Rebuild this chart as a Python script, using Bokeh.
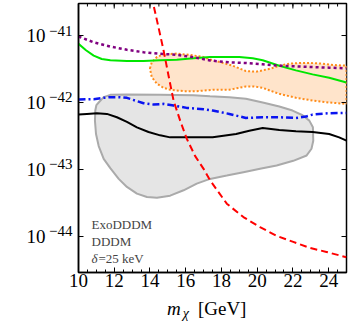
import numpy as np
from bokeh.plotting import figure
from bokeh.models import Range1d, FixedTicker, LogAxis, Label, Div
from bokeh.layouts import column
from bokeh.embed import file_html
from bokeh.resources import INLINE

# ---------------- data (m_chi in GeV, log10 of cross section) ----------------
purple_m = [10.0, 10.84, 11.77, 12.71, 13.64, 14.57, 15.50, 16.44, 17.37, 18.44, 19.37, 20.31, 21.24, 22.17, 23.10, 24.03, 25.0]
purple_log = [-41.015, -41.10, -41.164, -41.213, -41.249, -41.273, -41.288, -41.324, -41.373, -41.40, -41.41, -41.43, -41.45, -41.46, -41.47, -41.48, -41.49]

green_m = [10.0, 10.42, 10.85, 11.3, 11.78, 12.71, 13.64, 14.57, 15.50, 16.44, 17.36, 18.2, 19.0, 19.75, 20.31, 21.24, 22.17, 23.10, 24.03, 25.0]
green_log = [-41.124, -41.22, -41.30, -41.35, -41.37, -41.38, -41.38, -41.37, -41.36, -41.34, -41.32, -41.32, -41.32, -41.34, -41.37, -41.45, -41.52, -41.58, -41.63, -41.70]

band_upper_m = [14.0, 14.1, 14.39, 14.76, 15.5, 16.25, 16.99, 17.51, 18.1, 18.63, 19.37, 19.93, 20.31, 20.8, 21.24, 21.8, 22.36, 23.0, 23.66, 24.3, 25.0]
band_upper_log = [-41.49, -41.40, -41.32, -41.28, -41.27, -41.29, -41.32, -41.37, -41.41, -41.45, -41.53, -41.54, -41.52, -41.49, -41.45, -41.42, -41.41, -41.41, -41.42, -41.44, -41.45]
band_lower_m = [14.05, 14.1, 14.39, 14.76, 15.13, 15.88, 16.62, 17.51, 18.44, 19.0, 19.37, 19.8, 20.31, 20.8, 21.24, 22.17, 23.10, 24.03, 25.0]
band_lower_log = [-41.56, -41.62, -41.72, -41.78, -41.81, -41.83, -41.83, -41.81, -41.81, -41.78, -41.76, -41.76, -41.78, -41.83, -41.87, -41.93, -41.97, -42.00, -42.02]

blue_m = [10.0, 10.85, 11.41, 11.78, 12.34, 12.71, 13.17, 13.64, 14.2, 14.76, 15.32, 16.06, 17.0, 17.51, 18.44, 19.37, 20.31, 21.24, 22.17, 22.73, 23.10, 24.03, 25.0]
blue_log = [-41.955, -41.95, -41.93, -41.92, -41.92, -41.93, -41.97, -42.01, -42.03, -42.02, -42.045, -42.08, -42.10, -42.12, -42.17, -42.23, -42.22, -42.22, -42.23, -42.21, -42.18, -42.16, -42.155]

black_m = [10.0, 10.47, 11.03, 11.59, 12.15, 12.71, 13.27, 13.92, 14.57, 15.13, 16.06, 17.0, 17.51, 18.82, 19.56, 20.31, 21.24, 22.17, 23.10, 24.03, 24.59, 25.0]
black_log = [-42.18, -42.17, -42.16, -42.17, -42.22, -42.29, -42.37, -42.44, -42.49, -42.52, -42.52, -42.52, -42.52, -42.47, -42.42, -42.38, -42.41, -42.43, -42.44, -42.47, -42.52, -42.57]

gray_m = [11.13, 11.41, 11.78, 12.71, 14.57, 16.44, 17.36, 18.44, 19.37, 20.31, 21.24, 21.98, 22.54, 22.92, 23.12, 23.14, 23.04, 22.77, 22.02, 21.09, 20.16, 19.23, 18.3, 17.36, 16.62, 15.88, 15.13, 14.39, 13.83, 13.27, 12.71, 12.25, 11.78, 11.41, 11.13, 10.98, 10.92, 10.94, 11.0]
gray_log = [-42.0, -41.92, -41.885, -41.88, -41.885, -41.89, -41.905, -41.92, -41.945, -42.0, -42.06, -42.12, -42.19, -42.27, -42.37, -42.57, -42.69, -42.79, -42.87, -42.94, -42.99, -43.04, -43.09, -43.14, -43.21, -43.31, -43.39, -43.42, -43.41, -43.36, -43.26, -43.14, -42.98, -42.84, -42.65, -42.47, -42.27, -42.12, -42.04]

red_m = [14.0, 14.16, 14.48, 14.76, 15.04, 15.32, 15.69, 16.06, 16.53, 17.0, 17.36, 18.3, 19.23, 20.16, 21.09, 22.02, 22.95, 23.88, 25.0]
red_log = [-40.25, -40.50, -40.88, -41.22, -41.60, -41.97, -42.27, -42.54, -42.80, -42.99, -43.16, -43.51, -43.71, -43.86, -43.99, -44.08, -44.17, -44.23, -44.31]

x_ticks = [10, 12, 14, 16, 18, 20, 22, 24]
x_minor_ticks = [10 + 0.5 * i for i in range(31)]
y_tick_exponents = [-41, -42, -43, -44]
legend_texts = ["ExoDDDM", "DDDM", "=25 keV"]

SERIF = "Liberation Serif"
X0, X1 = 10, 25
LY0, LY1 = -44.537, -40.522
SUP_SHIFT = 0.075   # decades: raises the exponent labels a few pixels


def sig(vals):
    return [10.0 ** v for v in vals]


p = figure(width=350, height=298,
           x_range=Range1d(X0, X1),
           y_range=Range1d(10 ** LY0, 10 ** LY1),
           y_axis_type="log",
           output_backend="svg", toolbar_location=None,
           min_border_left=78, min_border_right=4,
           min_border_top=3, min_border_bottom=26)
p.extra_y_ranges = {"sup": Range1d(10 ** (LY0 - SUP_SHIFT), 10 ** (LY1 - SUP_SHIFT))}
p.background_fill_color = "white"
p.border_fill_color = "white"
p.grid.visible = False
p.outline_line_color = "black"
p.outline_line_width = 1.5

# gray region
p.patch(gray_m, sig(gray_log), fill_color="#e5e5e5", line_color="#aaaaaa", line_width=2)

# orange band
band_m = band_upper_m + band_lower_m[::-1]
band_log = band_upper_log + band_lower_log[::-1]
p.patch(band_m, sig(band_log), fill_color="#ffe4cb", line_color="#ff8c1a",
        line_width=2, line_dash="2 2")

p.line(black_m, sig(black_log), line_color="black", line_width=2)
p.line(blue_m, sig(blue_log), line_color="#0a14f0", line_width=2.5, line_dash="7 3 2 3")
p.line(green_m, sig(green_log), line_color="#00e600", line_width=2)
p.line(purple_m, sig(purple_log), line_color="#800080", line_width=2.5, line_dash="3 3")
p.line(red_m, sig(red_log), line_color="#ff0000", line_width=2, line_dash="7 4")

# ---- bottom axis
xt = FixedTicker(ticks=x_ticks, minor_ticks=x_minor_ticks)
y_decades = [10.0 ** e for e in y_tick_exponents]
yt = FixedTicker(ticks=y_decades, minor_ticks=[])

bx = p.xaxis[0]
bx.ticker = xt
bx.axis_line_color = "black"
bx.axis_line_width = 1.5
bx.major_tick_in = 5
bx.major_tick_out = 0
bx.minor_tick_in = 3
bx.minor_tick_out = 0
bx.major_tick_line_color = "black"
bx.minor_tick_line_color = "black"
bx.major_label_text_font = SERIF
bx.major_label_text_font_size = "19px"
bx.major_label_text_color = "black"
bx.major_label_standoff = 1

# ---- left: inner axis carries the raised exponents, outer axis the "10"
sup_ax = p.yaxis[0]
sup_ax.y_range_name = "sup"
sup_ax.ticker = yt
sup_ax.axis_line_color = "black"
sup_ax.axis_line_width = 1.5
sup_ax.major_tick_in = 0
sup_ax.major_tick_out = 0
sup_ax.minor_tick_line_color = None
sup_ax.major_tick_line_color = None
sup_ax.major_label_overrides = {d: "\u2212" + str(-e) for d, e in zip(y_decades, y_tick_exponents)}
sup_ax.major_label_text_font = SERIF
sup_ax.major_label_text_font_size = "15px"
sup_ax.major_label_text_color = "black"
sup_ax.major_label_standoff = 6

base_ax = LogAxis(ticker=yt)
base_ax.axis_line_color = None
base_ax.major_tick_line_color = None
base_ax.minor_tick_line_color = None
base_ax.major_tick_in = 0
base_ax.major_tick_out = 0
base_ax.major_label_overrides = {d: "10" for d in y_decades}
base_ax.major_label_text_font = SERIF
base_ax.major_label_text_font_size = "19px"
base_ax.major_label_text_color = "black"
base_ax.major_label_standoff = 1
p.add_layout(base_ax, "left")

# ---- inward ticks on left, top and right edges
p.ray(x=[X0] * len(y_decades), y=y_decades, length=5, length_units="screen",
      angle=0, line_color="black", line_width=1)
p.ray(x=x_minor_ticks, y=[10 ** LY1] * len(x_minor_ticks), length=3, length_units="screen",
      angle=-np.pi / 2, line_color="black", line_width=1)
p.ray(x=x_ticks, y=[10 ** LY1] * len(x_ticks), length=5, length_units="screen",
      angle=-np.pi / 2, line_color="black", line_width=1)
p.ray(x=[X1] * len(y_decades), y=y_decades, length=5, length_units="screen",
      angle=np.pi, line_color="black", line_width=1)

# ---- legend texts
y0 = 10 ** LY0
leg_off = [48, 31, 14]
p.add_layout(Label(x=X0, y=y0, x_offset=13, y_offset=leg_off[0], text=legend_texts[0],
                   text_font=SERIF, text_font_size="13px", text_baseline="alphabetic"))
p.add_layout(Label(x=X0, y=y0, x_offset=13, y_offset=leg_off[1], text=legend_texts[1],
                   text_font=SERIF, text_font_size="13px", text_baseline="alphabetic"))
p.add_layout(Label(x=X0, y=y0, x_offset=13, y_offset=leg_off[2], text="\u03b4",
                   text_font=SERIF, text_font_style="italic", text_font_size="13px",
                   text_baseline="alphabetic"))
p.add_layout(Label(x=X0, y=y0, x_offset=20, y_offset=leg_off[2], text=legend_texts[2],
                   text_font=SERIF, text_font_size="13px", text_baseline="alphabetic"))

# ---- x axis title m_chi [GeV]
xlabel = Div(
    text=('<span style="font-style:italic">m</span>'
          '<span style="font-style:italic;font-size:14px;position:relative;top:3px;margin-left:2px">\u03c7</span>'
          '<span style="margin-left:9px">[GeV]</span>'),
    width=350, height=31, margin=(0, 0, 0, 0),
    styles={"font-family": '"Liberation Serif", serif', "font-size": "19px", "line-height": "22px",
            "padding-left": "167px", "padding-top": "0px", "color": "black",
            "white-space": "nowrap"})

layout = column(p, xlabel, spacing=0)
open("out.html", "w").write(file_html(layout, INLINE))
